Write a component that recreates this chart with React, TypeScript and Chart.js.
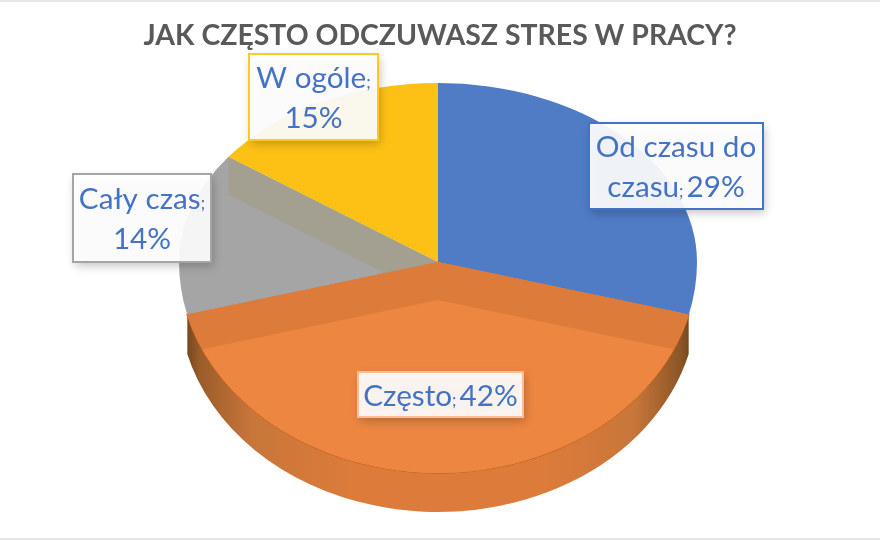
import { useEffect, useRef } from 'react'
import { Chart, registerables } from 'chart.js'

Chart.register(...registerables)

const categories = ['Od czasu do czasu', 'Często', 'Cały czas', 'W ogóle']
const values = [29, 42, 14, 15]
const sliceColors = ['#4F7CC5', '#ED8641', '#A5A5A5', '#FDC116']
const borderColors = ['#4472C4', '#F6BE9A', '#A5A5A5', '#FFC91F']

// how each label wraps; the ; gets drawn smaller like in the original
const labelLines = [
  ['Od czasu do', `czasu;${values[0]}%`],
  [`${categories[1]};${values[1]}%`],
  [`${categories[2]};`, `${values[2]}%`],
  [`${categories[3]};`, `${values[3]}%`]
]
const labelBoxes = [
  { left: 589, top: 123, right: 763, bottom: 209 },
  { left: 358, top: 372, right: 523, bottom: 417 },
  { left: 73, top: 174, right: 211, bottom: 262 },
  { left: 249, top: 54, right: 378, bottom: 140 }
]

const TEXT_FONT = 'Lato, "Open Sans", sans-serif'
const LABEL_SIZE = 29.7
const SEPARATOR_SIZE = 17
const SEPARATOR_GAP = 3
const LINE_HEIGHT = 40
const DEPTH = 38

// the pie is tilted: same width, but the front half is a bit taller than the back
const X_SCALE = 1.295
const BACK_SCALE = 0.895
const FRONT_SCALE = 1.055
const PIE_SHIFT_X = -2 // the title sits a little right of the pie

function sector(arc: any, dy: number) {
  const { x: chartX, y, outerRadius: r, startAngle, endAngle } = arc.getProps(['x', 'y', 'outerRadius', 'startAngle', 'endAngle'])
  const x = chartX + PIE_SHIFT_X
  const stops = [startAngle, ...[0, Math.PI].filter((a) => a > startAngle && a < endAngle), endAngle]
  const path = new Path2D()
  path.moveTo(x, y + dy)
  for (let i = 0; i < stops.length - 1; i++) {
    const mid = (stops[i] + stops[i + 1]) / 2
    const ry = r * (Math.sin(mid) < 0 ? BACK_SCALE : FRONT_SCALE)
    path.ellipse(x, y + dy, r * X_SCALE, ry, 0, stops[i], stops[i + 1])
  }
  path.closePath()
  return path
}

// the slice dragged straight down, as one shape
function swept(arc: any, depth: number) {
  const path = new Path2D()
  for (let dy = 0; dy <= depth; dy++) path.addPath(sector(arc, dy))
  return path
}

const tiltedPie = {
  id: 'tiltedPie',
  beforeDatasetsDraw(chart: any) {
    const ctx = chart.ctx
    const arcs = chart.getDatasetMeta(0).data
    const front = arcs[1]
    const r = front.outerRadius * X_SCALE
    const midX = front.x + PIE_SHIFT_X

    // side wall of the front slice
    const wall = ctx.createLinearGradient(midX - r, 0, midX + r, 0)
    wall.addColorStop(0, '#5E3A1C')
    wall.addColorStop(0.04, '#9A5C2A')
    wall.addColorStop(0.14, '#C8763A')
    wall.addColorStop(0.35, '#DD7C3A')
    wall.addColorStop(0.7, '#DD7C3A')
    wall.addColorStop(0.88, '#C8763A')
    wall.addColorStop(0.97, '#8A5526')
    wall.addColorStop(1, '#5E3A1C')
    ctx.save()
    ctx.fillStyle = wall
    ctx.fill(swept(front, DEPTH + 1))
    ctx.strokeStyle = '#C4621F'
    ctx.lineWidth = 1.5
    ctx.stroke(sector(front, 0))
    ctx.restore()

    arcs.forEach((arc: any) => {
      ctx.fillStyle = arc.options.backgroundColor
      ctx.fill(sector(arc, 0))
    })

    // darker band along the back of the front slice
    ctx.save()
    ctx.fillStyle = '#DD7C3A'
    ctx.fill(sector(front, 0))
    ctx.clip(sector(front, 0))
    ctx.fillStyle = front.options.backgroundColor
    ctx.fill(sector(front, DEPTH))
    ctx.restore()

    // shadow of the yellow slice falling on the grey one
    ctx.save()
    ctx.clip(sector(arcs[2], 0))
    ctx.fillStyle = 'rgba(160, 150, 115, 0.4)'
    ctx.fill(swept(arcs[3], DEPTH))
    ctx.restore()
    return false
  }
}

const labelBoxesPlugin = {
  id: 'labelBoxes',
  afterDraw(chart: any) {
    const ctx = chart.ctx
    labelBoxes.forEach((box, i) => {
      const w = box.right - box.left
      const h = box.bottom - box.top
      ctx.save()
      ctx.shadowColor = 'rgba(0, 0, 0, 0.25)'
      ctx.shadowBlur = 9
      ctx.shadowOffsetX = 2
      ctx.shadowOffsetY = 4
      ctx.fillStyle = 'rgba(255, 255, 255, 0.92)'
      ctx.fillRect(box.left, box.top, w, h)
      ctx.restore()
      ctx.strokeStyle = borderColors[i]
      ctx.lineWidth = 2
      ctx.strokeRect(box.left, box.top, w, h)

      const lines = labelLines[i]
      const cx = (box.left + box.right) / 2
      ctx.fillStyle = '#4472C4'
      ctx.textBaseline = 'alphabetic'
      ctx.textAlign = 'left'
      lines.forEach((line, j) => {
        const baseY = (box.top + box.bottom) / 2 + (j - (lines.length - 1) / 2) * LINE_HEIGHT + 11
        const [head, tail = ''] = line.split(';')
        const hasSep = line.includes(';')
        ctx.font = `${LABEL_SIZE}px ${TEXT_FONT}`
        const headW = ctx.measureText(head).width
        const tailW = tail ? ctx.measureText(tail).width + SEPARATOR_GAP : 0
        ctx.font = `${SEPARATOR_SIZE}px ${TEXT_FONT}`
        const sepW = hasSep ? ctx.measureText(';').width : 0
        let x = cx - (headW + sepW + tailW) / 2
        ctx.font = `${LABEL_SIZE}px ${TEXT_FONT}`
        ctx.fillText(head, x, baseY)
        x += headW
        if (hasSep) {
          ctx.font = `${SEPARATOR_SIZE}px ${TEXT_FONT}`
          ctx.fillText(';', x, baseY)
          x += sepW
        }
        if (tail) {
          ctx.font = `${LABEL_SIZE}px ${TEXT_FONT}`
          ctx.fillText(tail, x + SEPARATOR_GAP, baseY)
        }
      })
    })
  }
}

export default function App() {
  const canvasRef = useRef<HTMLCanvasElement | null>(null)

  useEffect(() => {
    if (!canvasRef.current) return
    const chart = new Chart(canvasRef.current, {
      type: 'pie',
      data: {
        labels: categories,
        datasets: [{ data: values, backgroundColor: sliceColors, borderWidth: 0 }]
      },
      options: {
        animation: false,
        responsive: false,
        layout: { padding: { top: 0, right: 0, bottom: 78, left: 0 } },
        plugins: {
          legend: { display: false },
          tooltip: { enabled: false },
          title: {
            display: true,
            text: 'JAK CZĘSTO ODCZUWASZ STRES W PRACY?',
            color: '#595959',
            font: { family: TEXT_FONT, size: 28.4, weight: 'bold', lineHeight: 36 / 28.4 },
            padding: { top: 18, bottom: 8 }
          }
        }
      },
      plugins: [tiltedPie, labelBoxesPlugin]
    })
    return () => chart.destroy()
  }, [])

  return (
    <div style={{ position: 'fixed', inset: 0, background: '#fff' }}>
      <canvas ref={canvasRef} width={880} height={540} style={{ display: 'block' }} />
      <div style={{ position: 'absolute', left: 0, right: 0, top: 0, height: 2, background: '#E6E6E6' }} />
      <div style={{ position: 'absolute', left: 0, right: 0, bottom: 0, height: 2, background: '#E6E6E6' }} />
    </div>
  )
}
